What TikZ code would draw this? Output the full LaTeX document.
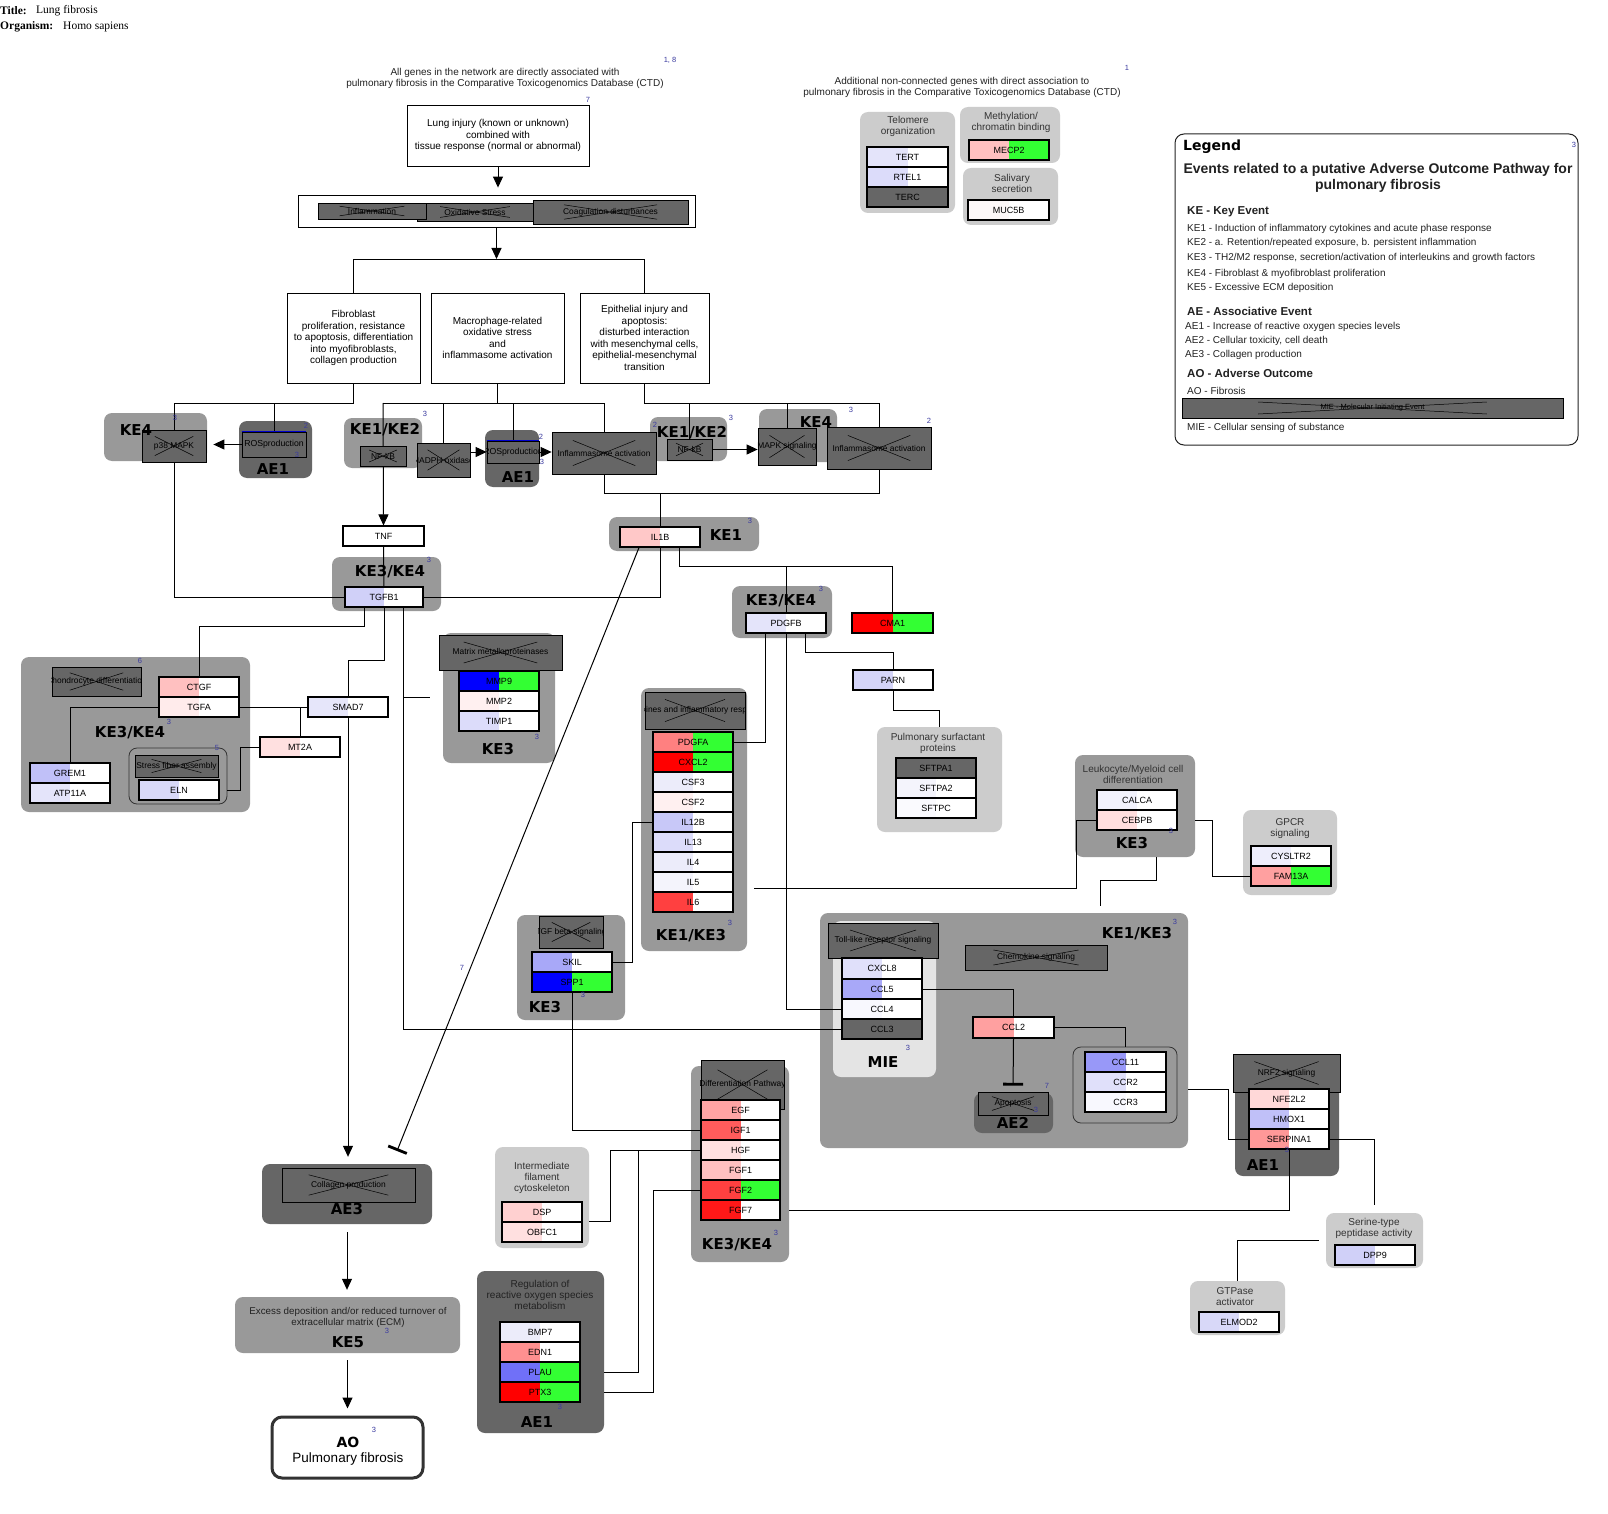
\documentclass[tikz,border=0pt]{standalone}
\usepackage{fontspec}
\setmainfont{Liberation Sans}
\newfontfamily\heavyfont{DejaVu Sans}
\newfontfamily\seriffont{Liberation Serif}
\usetikzlibrary{arrows.meta,calc}
\definecolor{g99}{HTML}{999999}
\definecolor{g66}{HTML}{666666}
\definecolor{gcc}{HTML}{CCCCCC}
\definecolor{ge4}{HTML}{E4E4E4}
\definecolor{t33}{HTML}{333333}
\definecolor{t22}{HTML}{222222}
\definecolor{numc}{HTML}{3C3CA0}
\definecolor{rosblue}{HTML}{0000CC}
\newcommand\fsz[2]{\fontsize{#1}{#2}\selectfont}
\pgfdeclarelayer{back}
\pgfdeclarelayer{mid}
\pgfsetlayers{back,mid,main}
\tikzset{
  conn/.style={line width=1pt, draw=black},
  arr/.style={conn, -{Triangle[length=11pt,width=10pt]}},
  tee/.style={conn, -{Bar[width=20pt,line width=2.8pt]}},
  gene/.style={draw=black, line width=1.1pt, inner sep=0pt, font=\fsz{9}{10},
    path picture={\fill[geneL] (path picture bounding box.south west) rectangle (path picture bounding box.north);
                  \fill[geneR] (path picture bounding box.south) rectangle (path picture bounding box.north east);}},
  pw/.style={draw=black, line width=0.8pt, fill=g66, inner sep=0pt,
    path picture={\draw[line width=0.5pt] ($(path picture bounding box.south west)!0.2!(path picture bounding box.north east)$) -- ($(path picture bounding box.south west)!0.8!(path picture bounding box.north east)$);
                  \draw[line width=0.5pt] ($(path picture bounding box.north west)!0.2!(path picture bounding box.south east)$) -- ($(path picture bounding box.north west)!0.8!(path picture bounding box.south east)$);}},
  rosnode/.style={draw=black, line width=0.8pt, fill=g66, inner sep=0pt},
  pwlabel/.style={font=\fsz{8.4}{10}, inner sep=0pt},
  grp/.style={rounded corners=8pt, inner sep=0pt},
  grplabel/.style={font=\heavyfont\bfseries\fsz{15}{16}, inner sep=0pt},
  num/.style={font=\fsz{7.5}{8}, text=numc, inner sep=0pt},
  gtitle/.style={font=\fsz{10}{11}, text=t33, align=center, inner sep=0pt},
  plainbox/.style={draw=black, line width=0.9pt, fill=white, inner sep=0pt, align=center, font=\fsz{10}{11.5}},
  legtext/.style={font=\fsz{10}{12}, anchor=west, inner sep=0pt, text=t22},
  leghead/.style={font=\bfseries\fsz{11.5}{13}, anchor=west, inner sep=0pt, text=t22},
}
% rounded group background: name, x1, y1, x2, y2, options
\newcommand\grpbox[6]{\node[grp,#6,minimum width={#4-#2},minimum height={#5-#3}] (#1) at ({(#2+#4)/2},{(#3+#5)/2}) {};}
% gene product box, left half and right half colours
\newcommand\genebox[8]{\definecolor{geneL}{HTML}{#6}\definecolor{geneR}{HTML}{#7}%
  \node[gene,minimum width={#4-#2},minimum height={#5-#3}] (#1) at ({(#2+#4)/2},{(#3+#5)/2}) {#8};}
% crossed-out pathway box with clipped label
\newcommand\pwbox[7][]{\node[pw,minimum width={#5-#3},minimum height={#6-#4}] (#2) at ({(#3+#5)/2},{(#4+#6)/2}) {};
  \begin{scope}\clip (#2.south west) rectangle (#2.north east);
  \node[pwlabel,#1] (#2-t) at (#2.center) {#7};\end{scope}}
% ROS production box with blue top edge
\newcommand\rosbox[5]{\node[rosnode,minimum width={#4-#2},minimum height={#5-#3}] (#1) at ({(#2+#4)/2},{(#3+#5)/2}) {};
  \begin{scope}\clip (#1.south west) rectangle (#1.north east);
  \node[pwlabel,font=\fsz{8.7}{10}] (#1-t) at (#1.center) {ROSproduction};\end{scope}
  \draw[rosblue,line width=1.3pt] (#1.north west) -- (#1.north east);}

\begin{document}
\begin{tikzpicture}[x=1pt,y=-1pt]
\useasboundingbox (0,0) rectangle (1608,1514);

% ---------- group backgrounds ----------
\begin{pgfonlayer}{back}
\fill[white] (0,0) rectangle (1608,1514);
\grpbox{ke4a}{104}{413}{207}{461}{fill=g99}
\grpbox{ae1a}{239}{421}{312}{478}{fill=g66}
\grpbox{ke12a}{344}{418}{422}{468}{fill=g99}
\grpbox{ae1b}{485}{430}{539}{487}{fill=g66}
\grpbox{ke12b}{650}{417}{727}{461}{fill=g99}
\grpbox{ke4b}{759}{409}{837}{462}{fill=g99}
\grpbox{ke34a}{332}{557}{441}{611}{fill=g99}
\grpbox{ke1a}{609}{517}{759}{551}{fill=g99}
\grpbox{ke34b}{732}{586}{832}{638}{fill=g99}
\grpbox{surf}{877}{727}{1002}{832}{fill=gcc}
\grpbox{ke34c}{21}{657}{250}{812}{fill=g99}
\grpbox{stressgrp}{129}{748}{227}{804}{fill=g99,draw=t33,line width=0.8pt}
\grpbox{mmpgrp}{443}{633}{555}{763}{fill=g99}
\grpbox{cytgrp}{641}{688}{747}{951}{fill=g99}
\grpbox{tgfbgrp}{517}{915}{625}{1020}{fill=g99}
\grpbox{leuk}{1075}{755}{1195}{857}{fill=g99}
\grpbox{gpcr}{1243}{810}{1337}{895}{fill=gcc}
\grpbox{keke3}{820}{913}{1188}{1148}{fill=g99}
\grpbox{mie}{833}{921}{936}{1077}{fill=ge4}
\grpbox{ae2grp}{974}{1093}{1053}{1133}{fill=g66}
\grpbox{ccl11grp}{1073}{1047}{1177}{1123}{fill=g99,draw=t33,line width=0.8pt}
\grpbox{diffgrp}{691}{1066}{789}{1262}{fill=g99}
\grpbox{ifgrp}{495}{1147}{589}{1248}{fill=gcc}
\grpbox{aeros}{477}{1271}{604}{1433}{fill=g66}
\grpbox{ae3grp}{262}{1164}{432}{1224}{fill=g66}
\grpbox{ke5}{235}{1297}{460}{1353}{fill=g99}
\grpbox{nrf2grp}{1235}{1055}{1339}{1176}{fill=g66}
\grpbox{serine}{1326}{1213}{1423}{1268}{fill=gcc}
\grpbox{gtp}{1190}{1281}{1285}{1335}{fill=gcc}
\grpbox{telo}{860}{112}{955}{213}{fill=gcc}
\grpbox{meth}{960}{107}{1060}{163}{fill=gcc}
\grpbox{sal}{963}{168}{1058}{225}{fill=gcc}
\end{pgfonlayer}

% ---------- header ----------
\node[anchor=west,font=\seriffont\bfseries\fsz{11.5}{13},inner sep=0pt] (ttl) at (0,11) {Title:};
\node[anchor=west,font=\seriffont\fsz{11.5}{13},inner sep=0pt] (ttlv) at (36,11) {Lung fibrosis};
\node[anchor=west,font=\seriffont\bfseries\fsz{11.5}{13},inner sep=0pt] (org) at (0,27) {Organism:};
\node[anchor=west,font=\seriffont\fsz{11.5}{13},inner sep=0pt] (orgv) at (63,27) {Homo sapiens};

\node[font=\fsz{10}{11},align=center,inner sep=0pt,text=t22] (note1) at (505,78) {All genes in the network are directly associated with\\pulmonary fibrosis in the Comparative Toxicogenomics Database (CTD)};
\node[num] (n-note1) at (670,60) {1, 8};
\node[font=\fsz{10}{11},align=center,inner sep=0pt,text=t22] (note2) at (962,87) {Additional non-connected genes with direct association to\\pulmonary fibrosis in the Comparative Toxicogenomics Database (CTD)};
\node[num] (n-note2) at (1127,68) {1};

% ---------- process boxes ----------
\node[plainbox,minimum width=182,minimum height=61] (lung) at (498,135.5) {Lung injury (known or unknown)\\combined with\\tissue response (normal or abnormal)};
\node[num] (n-lung) at (588,100) {7};
\node[draw=black,line width=0.9pt,fill=white,minimum width=397,minimum height=32,inner sep=0pt] (grp1) at (496.5,211) {};
\pwbox{oxs}{417}{203}{533}{221}{Oxidative Stress}
\pwbox{infl}{318}{203}{426}{219}{Inflammation}
\pwbox{coag}{533}{200}{688}{224}{Coagulation disturbances}
\node[plainbox,minimum width=133,minimum height=90] (fib) at (353.5,338) {Fibroblast\\proliferation, resistance\\to apoptosis, differentiation\\into myofibroblasts,\\collagen production};
\node[plainbox,minimum width=133,minimum height=90] (mac) at (497.5,338) {Macrophage-related\\oxidative stress\\and\\inflammasome activation};
\node[plainbox,minimum width=129,minimum height=90] (epi) at (644.5,338) {Epithelial injury and\\apoptosis:\\disturbed interaction\\with mesenchymal cells,\\epithelial-mesenchymal\\transition};

% ---------- pathway boxes ----------
\pwbox{p38}{142}{430}{206}{462}{p38 MAPK}
\rosbox{ros1}{242}{432}{306}{457}
\pwbox{nfkb1}{360}{446}{406}{466}{NF-kB}
\pwbox{nadph}{417}{443}{470}{477}{NADPH oxidase}
\rosbox{ros2}{487}{441}{539}{463}
\pwbox{inf1}{552}{432}{656}{474}{Inflammasome activation}
\pwbox{nfkb2}{667}{439}{712}{460}{NF-kB}
\pwbox{mapk}{758}{428}{816}{465}{MAPK signaling}
\pwbox{inf2}{827}{427}{931}{469}{Inflammasome activation}
\pwbox{chondro}{52}{667}{141}{696}{Chondrocyte differentiation}
\pwbox{stress}{135}{755}{218}{777}{Stress fiber assembly}
\pwbox{mmp}{439}{635}{562}{670}{Matrix metalloproteinases}
\pwbox{cyt}{645}{692}{745}{729}{Cytokines and inflammatory response}
\pwbox{tgfbs}{539}{916}{603}{948}{TGF beta signaling}
\pwbox{toll}{828}{923}{938}{958}{Toll-like receptor signaling}
\pwbox{chemo}{965}{945}{1107}{970}{Chemokine signaling}
\pwbox{apop}{978}{1092}{1048}{1115}{Apoptosis}
\pwbox{diff}{701}{1060}{784}{1109}{Differentiation Pathway}
\pwbox{collagen}{282}{1168}{415}{1202}{Collagen production}
\pwbox{nrf2}{1233}{1054}{1340}{1092}{NRF2 signaling}

% ---------- gene products ----------
\genebox{tnf}{343}{526}{424}{546}{FFFFFF}{FFFFFF}{TNF}
\genebox{tgfb1}{345}{587}{423}{607}{D0D0F8}{FFFFFF}{TGFB1}
\genebox{il1b}{620}{527}{700}{547}{FFC8C8}{FFFFFF}{IL1B}
\genebox{pdgfb}{746}{613}{826}{633}{E4E4FA}{FFFFFF}{PDGFB}
\genebox{cma1}{852}{613}{933}{633}{FF0000}{33FF33}{CMA1}
\genebox{parn}{853}{670}{933}{690}{D4D4F8}{FFFFFF}{PARN}
\genebox{sftpa1}{896}{758}{976}{778}{666666}{666666}{SFTPA1}
\genebox{sftpa2}{896}{778}{976}{798}{F4F4FC}{FFFFFF}{SFTPA2}
\genebox{sftpc}{896}{798}{976}{818}{FAFAFE}{FFFFFF}{SFTPC}
\genebox{ctgf}{159}{677}{239}{697}{FFC0C0}{FFFFFF}{CTGF}
\genebox{tgfa}{159}{697}{239}{717}{FFEBEB}{FFFFFF}{TGFA}
\genebox{grem1}{30}{763}{110}{783}{C0C0F8}{FFFFFF}{GREM1}
\genebox{atp11a}{30}{783}{110}{803}{E4E4FA}{FFFFFF}{ATP11A}
\genebox{eln}{139}{780}{219}{800}{D8D8F8}{FFFFFF}{ELN}
\genebox{mt2a}{260}{737}{340}{757}{FFE0E0}{FFFFFF}{MT2A}
\genebox{smad7}{308}{697}{388}{717}{E6E6FA}{FFFFFF}{SMAD7}
\genebox{mmp9}{459}{671}{539}{691}{0000FF}{33FF33}{MMP9}
\genebox{mmp2}{459}{691}{539}{711}{FFF0F0}{FFFFFF}{MMP2}
\genebox{timp1}{459}{711}{539}{731}{DCDCFA}{FFFFFF}{TIMP1}
\genebox{pdgfa}{653}{732}{733}{752}{FF8080}{33FF33}{PDGFA}
\genebox{cxcl2}{653}{752}{733}{772}{FF0000}{33FF33}{CXCL2}
\genebox{csf3}{653}{772}{733}{792}{ECECFA}{FFFFFF}{CSF3}
\genebox{csf2}{653}{792}{733}{812}{FFF0F0}{FFFFFF}{CSF2}
\genebox{il12b}{653}{812}{733}{832}{C8C8F8}{FFFFFF}{IL12B}
\genebox{il13}{653}{832}{733}{852}{DCDCFA}{FFFFFF}{IL13}
\genebox{il4}{653}{852}{733}{872}{ECECFA}{FFFFFF}{IL4}
\genebox{il5}{653}{872}{733}{892}{F4F4FC}{FFFFFF}{IL5}
\genebox{il6}{653}{892}{733}{912}{FF4040}{FFFFFF}{IL6}
\genebox{skil}{532}{952}{612}{972}{A8A8F8}{FFFFFF}{SKIL}
\genebox{spp1}{532}{972}{612}{992}{0000FF}{33FF33}{SPP1}
\genebox{calca}{1097}{790}{1177}{810}{F2F2FC}{FFFFFF}{CALCA}
\genebox{cebpb}{1097}{810}{1177}{830}{FFDEDE}{FFFFFF}{CEBPB}
\genebox{cysltr2}{1251}{846}{1331}{866}{EEEEFC}{FFFFFF}{CYSLTR2}
\genebox{fam13a}{1251}{866}{1331}{886}{FFA0A0}{33FF33}{FAM13A}
\genebox{cxcl8}{842}{958}{922}{979}{E0E0FA}{FFFFFF}{CXCL8}
\genebox{ccl5}{842}{979}{922}{999}{A8A8F8}{FFFFFF}{CCL5}
\genebox{ccl4}{842}{999}{922}{1019}{F8F8FE}{FFFFFF}{CCL4}
\genebox{ccl3}{842}{1019}{922}{1039}{666666}{666666}{CCL3}
\genebox{ccl2}{973}{1017}{1054}{1038}{FFA0A0}{FFFFFF}{CCL2}
\genebox{ccl11}{1085}{1052}{1166}{1072}{9898F8}{FFFFFF}{CCL11}
\genebox{ccr2}{1085}{1072}{1166}{1092}{E0E0FA}{FFFFFF}{CCR2}
\genebox{ccr3}{1085}{1092}{1166}{1112}{F8F8FE}{FFFFFF}{CCR3}
\genebox{egf}{701}{1100}{780}{1120}{FFA4A4}{FFFFFF}{EGF}
\genebox{igf1}{701}{1120}{780}{1140}{FF5C5C}{FFFFFF}{IGF1}
\genebox{hgf}{701}{1140}{780}{1160}{FFE0E0}{FFFFFF}{HGF}
\genebox{fgf1}{701}{1160}{780}{1180}{FFC0C0}{FFFFFF}{FGF1}
\genebox{fgf2}{701}{1180}{780}{1200}{FF4040}{33FF33}{FGF2}
\genebox{fgf7}{701}{1200}{780}{1220}{FF1818}{FFFFFF}{FGF7}
\genebox{dsp}{502}{1202}{582}{1222}{FFD0D0}{FFFFFF}{DSP}
\genebox{obfc1}{502}{1222}{582}{1242}{FFE0E0}{FFFFFF}{OBFC1}
\genebox{bmp7}{500}{1322}{580}{1342}{ECECFA}{FFFFFF}{BMP7}
\genebox{edn1}{500}{1342}{580}{1362}{FF9090}{FFFFFF}{EDN1}
\genebox{plau}{500}{1362}{580}{1382}{7070F8}{33FF33}{PLAU}
\genebox{ptx3}{500}{1382}{580}{1402}{FF0000}{33FF33}{PTX3}
\genebox{nfe2l2}{1249}{1089}{1329}{1109}{FFD8D8}{FFFFFF}{NFE2L2}
\genebox{hmox1}{1249}{1109}{1329}{1129}{C0C0F8}{FFFFFF}{HMOX1}
\genebox{serpina1}{1249}{1129}{1329}{1149}{FF9898}{FFFFFF}{SERPINA1}
\genebox{dpp9}{1335}{1245}{1415}{1265}{D0D0F8}{FFFFFF}{DPP9}
\genebox{elmod2}{1199}{1312}{1279}{1332}{D8D8F8}{FFFFFF}{ELMOD2}
\genebox{tert}{867}{147}{948}{167}{E4E4FA}{FFFFFF}{TERT}
\genebox{rtel1}{867}{167}{948}{187}{DCDCFA}{FFFFFF}{RTEL1}
\genebox{terc}{867}{187}{948}{207}{666666}{666666}{TERC}
\genebox{mecp2}{969}{140}{1049}{160}{FFC0C0}{33FF33}{MECP2}
\genebox{muc5b}{968}{200}{1049}{220}{FDF8F8}{FFFFFF}{MUC5B}

% ---------- adverse outcome ----------
\node[draw=t33,line width=3pt,rounded corners=10pt,fill=white,minimum width=151,minimum height=61,inner sep=0pt] (ao) at (347.5,1447.5) {};
\node[grplabel,font=\heavyfont\bfseries\fsz{14}{15}] (ao-l) at (348,1442) {AO};
\node[font=\fsz{13.5}{15},inner sep=0pt] (ao-t) at (348,1459) {Pulmonary fibrosis};

% ---------- group titles ----------
\node[gtitle] (surf-t) at (938,743.5) {Pulmonary surfactant\\proteins};
\node[gtitle] (leuk-t) at (1133,774) {Leukocyte/Myeloid cell\\differentiation};
\node[gtitle] (gpcr-t) at (1290,828.5) {GPCR\\signaling};
\node[gtitle] (if-t) at (542,1178) {Intermediate\\filament\\cytoskeleton};
\node[gtitle,text=t22] (aeros-t) at (540,1295) {Regulation of\\reactive oxygen species\\metabolism};
\node[gtitle] (serine-t) at (1374,1228.5) {Serine-type\\peptidase activity};
\node[gtitle] (gtp-t) at (1235,1296.5) {GTPase\\activator};
\node[gtitle] (telo-t) at (908,126.5) {Telomere\\organization};
\node[gtitle] (meth-t) at (1011,122.5) {Methylation/\\chromatin binding};
\node[gtitle] (sal-t) at (1012,183.5) {Salivary\\secretion};
\node[gtitle,text=t22,font=\fsz{9.8}{11}] (ke5-t) at (348,1317.5) {Excess deposition and/or reduced turnover of\\extracellular matrix (ECM)};

% ---------- event labels ----------
\node[grplabel] (l-ke4a) at (136,430) {KE4};
\node[grplabel] (l-ke4b) at (816,422) {KE4};
\node[grplabel] (l-ae1a) at (273,469) {AE1};
\node[grplabel] (l-ae1b) at (518,477) {AE1};
\node[grplabel] (l-ke12a) at (385,430) {KE1/KE2};
\node[grplabel] (l-ke12b) at (692,433) {KE1/KE2};
\node[grplabel] (l-ke34a) at (390,572) {KE3/KE4};
\node[grplabel] (l-ke1a) at (726,535) {KE1};
\node[grplabel] (l-ke34b) at (781,601) {KE3/KE4};
\node[grplabel] (l-ke34c) at (130,733) {KE3/KE4};
\node[grplabel] (l-mmp) at (498,749) {KE3};
\node[grplabel] (l-cyt) at (691,936) {KE1/KE3};
\node[grplabel] (l-tgfb) at (545,1007) {KE3};
\node[grplabel] (l-leuk) at (1132,843) {KE3};
\node[grplabel] (l-keke3) at (1137,934) {KE1/KE3};
\node[grplabel] (l-mie) at (883,1062) {MIE};
\node[grplabel] (l-ae2) at (1013,1123) {AE2};
\node[grplabel] (l-diff) at (737,1245) {KE3/KE4};
\node[grplabel] (l-aeros) at (537,1422) {AE1};
\node[grplabel] (l-ae3) at (347,1209) {AE3};
\node[grplabel] (l-ke5) at (348,1342) {KE5};
\node[grplabel] (l-nrf2) at (1263,1165) {AE1};

% ---------- reference numbers ----------
\node[num] (r1) at (175,418) {3};
\node[num] (r2) at (306,426) {2};
\node[num] (r3) at (297,455) {3};
\node[num] (r4) at (425,414) {3};
\node[num] (r5) at (541,437) {2};
\node[num] (r6) at (542,462) {3};
\node[num] (r7) at (731,418) {3};
\node[num] (r8) at (655,425) {2};
\node[num] (r9) at (851,410) {3};
\node[num] (r10) at (929,421) {2};
\node[num] (r11) at (429,560) {3};
\node[num] (r12) at (750,521) {3};
\node[num] (r13) at (821,589) {3};
\node[num] (r14) at (140,661) {6};
\node[num] (r15) at (169,722) {3};
\node[num] (r16) at (217,748) {5};
\node[num] (r17) at (537,737) {3};
\node[num] (r18) at (730,923) {3};
\node[num] (r19) at (583,995) {3};
\node[num] (r20) at (1171,831) {3};
\node[num] (r21) at (1175,922) {3};
\node[num] (r22) at (908,1048) {3};
\node[num] (r23) at (1047,1086) {7};
\node[num] (r24) at (1036,1110) {3};
\node[num] (r25) at (776,1233) {3};
\node[num] (r26) at (560,1407) {3};
\node[num] (r27) at (387,1331) {3};
\node[num] (r28) at (374,1430) {3};
\node[num] (r29) at (1287,1150) {3};
\node[num] (r30) at (462,968) {7};

% ---------- legend ----------
\node[draw=t22,line width=1pt,rounded corners=9pt,fill=white,minimum width=403,minimum height=311,inner sep=0pt] (legend) at (1376.5,289.5) {};
\node[anchor=west,font=\heavyfont\bfseries\fsz{14}{15},inner sep=0pt] (leg-h) at (1183,147) {Legend};
\node[num] (leg-n) at (1574,145) {3};
\node[font=\bfseries\fsz{14}{16},align=center,inner sep=0pt,text=t22] (leg-sub) at (1378,178) {Events related to a putative Adverse Outcome Pathway for\\pulmonary fibrosis};
\node[leghead] (leg-ke) at (1187,212) {KE - Key Event};
\node[legtext] (leg-ke1) at (1187,229) {KE1 - Induction of inflammatory cytokines and acute phase response};
\node[legtext] (leg-ke2) at (1187,243) {KE2 - a. Retention/repeated exposure, b. persistent inflammation};
\node[legtext] (leg-ke3) at (1187,258) {KE3 - TH2/M2 response, secretion/activation of interleukins and growth factors};
\node[legtext] (leg-ke4) at (1187,274) {KE4 - Fibroblast \& myofibroblast proliferation};
\node[legtext] (leg-ke5) at (1187,288) {KE5 - Excessive ECM deposition};
\node[leghead] (leg-ae) at (1187,311) {AE - Associative Event};
\node[legtext] (leg-ae1) at (1185,327) {AE1 - Increase of reactive oxygen species levels};
\node[legtext] (leg-ae2) at (1185,341) {AE2 - Cellular toxicity, cell death};
\node[legtext] (leg-ae3) at (1185,355) {AE3 - Collagen production};
\node[leghead] (leg-ao) at (1187,373) {AO - Adverse Outcome};
\node[legtext] (leg-ao1) at (1187,391) {AO - Fibrosis};
\pwbox[font=\fsz{7.5}{9}]{miebar}{1182}{398}{1563}{418}{MIE - Molecular Initiating Event}
\node[legtext] (leg-mie) at (1187,428) {MIE - Cellular sensing of substance};

% ---------- connectors ----------
\begin{pgfonlayer}{mid}
\draw[arr,shorten >=7pt] (lung.south) -- (lung.south |- grp1.north);
\draw[arr] (grp1.south) -- (grp1.south |- 0,259);
\draw[conn] (fib.north) -- (fib.north |- 0,260) -- (epi.north |- 0,260) -- (epi.north);
% fibroblast branch
\draw[conn] (fib.south) -- (fib.south |- 0,403) -- (p38.north |- 0,403) -- (tgfb1.west -| p38.south) -- (tgfb1.west);
\draw[conn] (ros1.north |- 0,403) -- (ros1.north);
\draw[arr,shorten >=7pt] (ros1.west) -- (ros1.west -| p38.east);
% macrophage branch
\draw[conn] (mac.south) -- (mac.south |- 0,403);
\draw[conn] (nfkb1.north |- 0,403) -- (inf1.north |- 0,403) -- (inf1.north);
\draw[arr] (nfkb1.north |- 0,403) -- (tnf.north);
\draw[conn] (nadph.north |- 0,403) -- (nadph.north);
\draw[conn] (ros2.north |- 0,403) -- (ros2.north);
\draw[arr] (nadph.east |- ros2.west) -- (ros2.west);
\draw[arr] (ros2.east) -- (ros2.east -| inf1.west);
% epithelial branch
\draw[conn] (epi.south) -- (epi.south |- 0,403) -- (inf2.north |- 0,403) -- (inf2.north);
\draw[conn] (nfkb2.north |- 0,403) -- (nfkb2.north);
\draw[conn] (mapk.north |- 0,403) -- (mapk.north);
\draw[arr] (nfkb2.east) -- (nfkb2.east -| mapk.west);
\draw[conn] (inf1.south) -- (inf1.south |- 0,493) -- (inf2.south |- 0,493) -- (inf2.south);
% IL1B and TGFB1
\draw[conn] (il1b.north |- 0,493) -- (il1b.north);
\draw[conn] (il1b.south) -- (il1b.south |- tgfb1.east) -- (tgfb1.east);
\draw[conn] (il1b.south -| 679,0) -- (679,566) -- (cma1.north |- 0,566) -- (cma1.north);
\draw[conn] (pdgfb.north |- 0,566) -- (pdgfb.north);
\draw[conn] (pdgfb.south) -- (ccl4.west -| pdgfb.south) -- (ccl4.west);
\draw[conn] (pdgfb.south -| 765,0) -- (pdgfa.east -| 765,0) -- (pdgfa.east);
\draw[conn] (pdgfb.south -| 805,0) -- (805,652) -- (parn.north |- 0,652) -- (parn.north);
\draw[conn] (parn.south) -- (parn.south |- 0,710) -- (surf.north |- 0,710) -- (surf.north);
\draw[conn] (tnf.south) -- (tgfb1.north);
\draw[conn] (tgfb1.south -| 364,0) -- (364,626) -- (ctgf.north |- 0,626) -- (ctgf.north);
\draw[conn] (tgfb1.south) -- (tgfb1.south |- 0,660) -- (smad7.north |- 0,660) -- (smad7.north);
\draw[arr,shorten >=7pt] (smad7.south) -- (ae3grp.north -| smad7.south);
\draw[conn] (tgfb1.south -| 403,0) -- (ccl3.west -| 403,0) -- (ccl3.west);
\draw[conn,shorten >=13pt] (403,697) -- (mmpgrp.west |- 0,697);
\draw[conn] (tgfa.east) -- (smad7.west);
\draw[conn] (mt2a.north |- tgfa.east) -- (mt2a.north);
\draw[conn] (tgfa.west) -- (tgfa.west -| grem1.north) -- (grem1.north);
\draw[conn] (stressgrp.east |- eln.east) -- (240,790) -- (mt2a.west -| 240,0) -- (mt2a.west);
% cytokines, TGF beta and growth factors
\draw[conn] (il12b.west) -- (il12b.west -| 632,0) -- (skil.east -| 632,0) -- (skil.east);
\draw[conn] (spp1.south) -- (igf1.west -| spp1.south) -- (igf1.west);
\draw[conn] (hgf.west) -- (hgf.west -| 610,0) -- (610,1221) -- (ifgrp.east |- 0,1221);
\draw[conn] (hgf.west -| 638,0) -- (plau.east -| 638,0) -- (plau.east -| aeros.east);
\draw[conn] (fgf2.west) -- (fgf2.west -| 653,0) -- (ptx3.east -| 653,0) -- (ptx3.east -| aeros.east);
\draw[conn] (diffgrp.east |- fgf7.east) -- (serpina1.south |- fgf7.east) -- (serpina1.south);
% NRF2, serine peptidase, GTPase
\draw[conn] (serpina1.west) -- (serpina1.west -| 1228,0) -- (1228,1089) -- (keke3.east |- 0,1089);
\draw[conn,shorten >=8pt] (serpina1.east) -- (serpina1.east -| serine.north) -- (serine.north);
\draw[conn,shorten <=7pt] (serine.west) -- (serine.west -| gtp.north) -- (gtp.north);
% leukocyte group
\draw[conn] (leuk.east |- cebpb.east) -- (cebpb.east -| 1212,0) -- (fam13a.west -| 1212,0) -- (fam13a.west);
\draw[conn,shorten >=7pt] (cebpb.west) -- (cebpb.west -| 1076,0) -- (1076,888) -- (cytgrp.east |- 0,888);
\draw[conn,shorten >=7pt] (leuk.south -| 1156,0) -- (1156,880) -- (1100,880) -- (keke3.north -| 1100,0);
% chemokines
\draw[conn] (ccl5.east) -- (ccl5.east -| ccl2.north) -- (ccl2.north);
\draw[tee,shorten >=6pt] (ccl2.south) -- (apop.north);
\draw[conn] (ccl2.east) -- (ccl2.east -| ccl11grp.north) -- (ccl11grp.north);
% inhibition of collagen production
\coordinate (teeend) at (397,1151);
\draw[tee] (il1b.south -| 639,0) -- (teeend);
% towards the adverse outcome
\draw[arr,shorten <=8pt,shorten >=7pt] (ae3grp.south) -- (ke5.north -| ae3grp.south);
\draw[arr,shorten <=7pt,shorten >=7pt] (ke5.south) -- (ao.north);
\end{pgfonlayer}
\end{tikzpicture}
\end{document}
